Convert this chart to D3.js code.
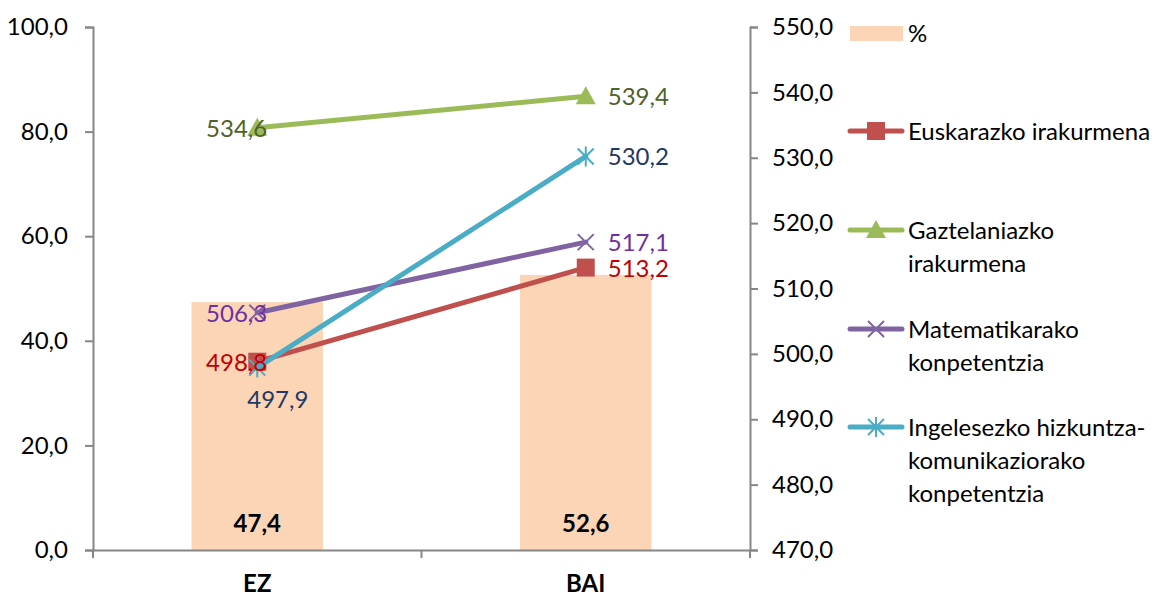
<!doctype html>
<html>
<head>
<style>
  body { margin: 0; background: #fff; }
  text { font-family: Lato, "Open Sans", sans-serif; }
</style>
<script src="https://d3js.org/d3.v7.min.js"></script>
</head>
<body>
<svg width="1162" height="596"></svg>
<script>
var categories = ["EZ", "BAI"];
var percent = [47.4, 52.6];
var euskara = [498.8, 513.2];
var gaztelania = [534.6, 539.4];
var matematika = [506.3, 517.1];
var ingelesa = [497.9, 530.2];
var leftTicks = [0, 20, 40, 60, 80, 100];
var rightTicks = [470, 480, 490, 500, 510, 520, 530, 540, 550];

var series = [
  { name: ["Euskarazko irakurmena"], values: euskara, color: "#C0504D", label: "#C00000", marker: "square", legendY: 131 },
  { name: ["Gaztelaniazko", "irakurmena"], values: gaztelania, color: "#9BBB59", label: "#4F6228", marker: "triangle", legendY: 230 },
  { name: ["Matematikarako", "konpetentzia"], values: matematika, color: "#8064A2", label: "#7030A0", marker: "cross", legendY: 329 },
  { name: ["Ingelesezko hizkuntza-", "komunikaziorako", "konpetentzia"], values: ingelesa, color: "#4BACC6", label: "#1F3864", marker: "star", legendY: 427 }
];
// label placement per point: [dx, dy, anchor]
var labelPos = [
  [[10, 9, "end"], [22, 9, "start"]],
  [[10, 9, "end"], [22, 9, "start"]],
  [[10, 9, "end"], [22, 9, "start"]],
  [[-10, 40, "start"], [22, 9, "start"]]
];

var svg = d3.select("svg");
var mLeft = 93, mRight = 750, mTop = 27, mBottom = 550;
var fs = 24;
var fmt = function(d) { return d.toFixed(1).replace(".", ","); };

var x = d3.scaleBand().domain(categories).range([mLeft, mRight]);
var yL = d3.scaleLinear().domain([0, 100]).range([mBottom, mTop]);
var yR = d3.scaleLinear().domain([470, 550]).range([mBottom, mTop]);

// bars
var barW = x.bandwidth() * 0.4;
svg.selectAll(".bar").data(categories).enter().append("rect")
  .attr("x", function(d) { return x(d) + x.bandwidth() / 2 - barW / 2; })
  .attr("y", function(d, i) { return yL(percent[i]); })
  .attr("width", barW)
  .attr("height", function(d, i) { return mBottom - yL(percent[i]); })
  .attr("fill", "#FBD5B5");

// axes
var axisColor = "#868686";
var gl = svg.append("g").attr("transform", "translate(" + mLeft + ",0)")
  .call(d3.axisLeft(yL).tickValues(leftTicks).tickFormat(fmt).tickSizeOuter(0).tickSize(8).tickPadding(17));
var gr = svg.append("g").attr("transform", "translate(" + mRight + ",0)")
  .call(d3.axisRight(yR).tickValues(rightTicks).tickFormat(fmt).tickSizeOuter(0).tickSize(8).tickPadding(14));
var gb = svg.append("g").attr("transform", "translate(0," + mBottom + ")")
  .call(d3.axisBottom(x).tickSize(0).tickSizeOuter(0));
[gl, gr, gb].forEach(function(g) {
  g.selectAll("path").attr("stroke", axisColor).attr("stroke-width", 2);
  g.selectAll("line").attr("stroke", axisColor).attr("stroke-width", 2);
  g.selectAll("text").attr("font-size", fs).attr("fill", "#000").attr("font-family", "Lato, sans-serif");
});
gb.selectAll(".tick").remove();
gb.selectAll(".lbl").data(categories).enter().append("text")
  .attr("x", function(d) { return x(d) + x.bandwidth() / 2; })
  .attr("y", 42)
  .attr("fill", "#000")
  .attr("text-anchor", "middle").attr("font-size", fs).attr("font-weight", "bold").text(function(d) { return d; });
// middle tick and end ticks on category axis
[mLeft, x("BAI"), mRight].forEach(function(px) {
  gb.append("line").attr("x1", px).attr("x2", px).attr("y1", 0).attr("y2", 8)
    .attr("stroke", axisColor).attr("stroke-width", 2);
});

// bar labels
svg.selectAll(".blbl").data(categories).enter().append("text")
  .attr("x", function(d) { return x(d) + x.bandwidth() / 2; })
  .attr("y", 532)
  .attr("text-anchor", "middle").attr("font-size", fs).attr("font-weight", "bold")
  .text(function(d, i) { return fmt(percent[i]); });

var cx = function(i) { return x(categories[i]) + x.bandwidth() / 2; };

function drawMarker(g, type, color, px, py) {
  if (type === "square") {
    g.append("rect").attr("x", px - 9).attr("y", py - 9).attr("width", 18).attr("height", 18).attr("fill", color);
  } else if (type === "triangle") {
    g.append("path").attr("d", "M" + px + "," + (py - 10) + "L" + (px + 10) + "," + (py + 8) + "L" + (px - 10) + "," + (py + 8) + "Z").attr("fill", color);
  } else if (type === "cross") {
    g.append("path").attr("d", "M" + (px - 8) + "," + (py - 8) + "L" + (px + 8) + "," + (py + 8) + "M" + (px + 8) + "," + (py - 8) + "L" + (px - 8) + "," + (py + 8))
      .attr("stroke", color).attr("stroke-width", 2);
  } else {
    g.append("path").attr("d", "M" + (px - 8) + "," + (py - 8) + "L" + (px + 8) + "," + (py + 8) + "M" + (px + 8) + "," + (py - 8) + "L" + (px - 8) + "," + (py + 8) + "M" + px + "," + (py - 10) + "L" + px + "," + (py + 10))
      .attr("stroke", color).attr("stroke-width", 2);
  }
}

var line = d3.line().x(function(d, i) { return cx(i); }).y(function(d) { return yR(d); });
series.forEach(function(s) {
  var g = svg.append("g");
  g.append("path").datum(s.values).attr("d", line).attr("fill", "none")
    .attr("stroke", s.color).attr("stroke-width", 5).attr("stroke-linecap", "round");
  s.values.forEach(function(v, i) { drawMarker(g, s.marker, s.color, cx(i), yR(v)); });
});

// data labels on top
series.forEach(function(s, k) {
  s.values.forEach(function(v, i) {
    var p = labelPos[k][i];
    svg.append("text").attr("x", cx(i) + p[0]).attr("y", yR(v) + p[1])
      .attr("text-anchor", p[2]).attr("font-size", fs).attr("fill", s.label).text(fmt(v));
  });
});

// legend
var lg = svg.append("g");
lg.append("rect").attr("x", 850).attr("y", 26).attr("width", 53).attr("height", 15).attr("fill", "#FBD5B5");
lg.append("text").attr("x", 908).attr("y", 42).attr("font-size", fs).text("%");
series.forEach(function(s) {
  lg.append("line").attr("x1", 850).attr("x2", 902).attr("y1", s.legendY).attr("y2", s.legendY)
    .attr("stroke", s.color).attr("stroke-width", 5).attr("stroke-linecap", "round");
  drawMarker(lg, s.marker, s.color, 876, s.legendY);
  s.name.forEach(function(t, j) {
    lg.append("text").attr("x", 908).attr("y", s.legendY + 9 + j * 33).attr("font-size", fs).text(t);
  });
});
</script>
</body>
</html>
